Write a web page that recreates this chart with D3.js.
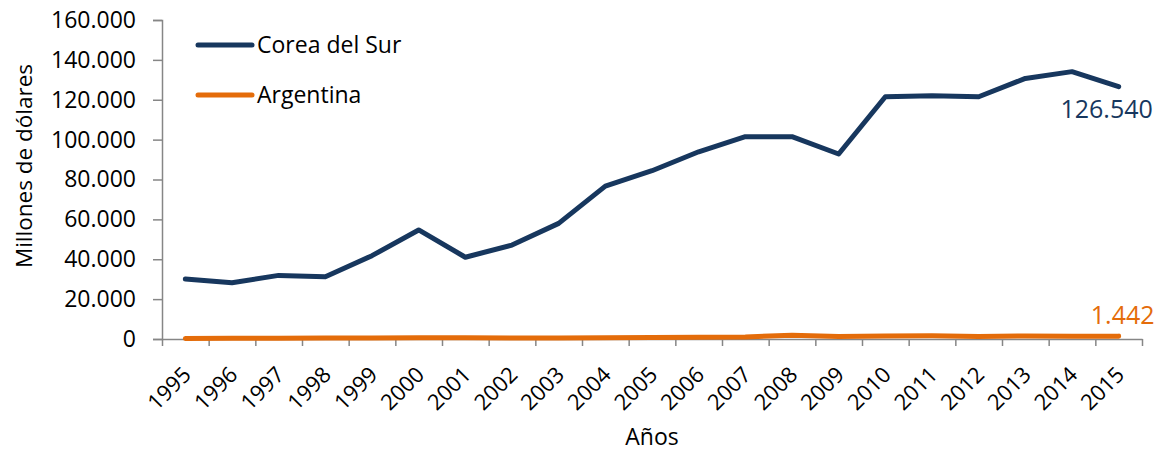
<!DOCTYPE html>
<html>
<head>
<meta charset="utf-8">
<script src="https://cdn.jsdelivr.net/npm/d3@7/dist/d3.min.js"></script>
<style>
  html, body { margin: 0; padding: 0; background: #fff; }
  svg { display: block; font-family: "Open Sans", sans-serif; }
</style>
</head>
<body>
<svg id="chart" width="1163" height="454"></svg>
<script>
const years = ["1995","1996","1997","1998","1999","2000","2001","2002","2003","2004","2005","2006","2007","2008","2009","2010","2011","2012","2013","2014","2015"];
const corea = [30100, 28200, 31900, 31200, 41800, 54700, 41000, 47100, 58000, 76700, 84400, 93900, 101500, 101500, 92800, 121500, 122000, 121500, 130700, 134100, 126540];
const argentina = [300, 350, 400, 450, 450, 600, 600, 500, 550, 650, 700, 900, 1000, 1900, 1300, 1500, 1650, 1300, 1500, 1400, 1442];
const yTicks = [0, 20000, 40000, 60000, 80000, 100000, 120000, 140000, 160000];
const seriesNames = ["Corea del Sur", "Argentina"];

const navy = "#17375E", orange = "#E46C0A", axisGray = "#868686";
const locale = d3.formatLocale({decimal: ",", thousands: ".", grouping: [3], currency: ["", ""]});
const fmt = locale.format(",");

const svg = d3.select("#chart");
const mLeft = 162, mRight = 1142, mTop = 20, mBottom = 339;

const x = d3.scaleBand().domain(years).range([mLeft, mRight]).paddingInner(0).paddingOuter(0);
const xb = d3.scaleLinear().domain([0, years.length]).range([mLeft, mRight]);
const y = d3.scaleLinear().domain([0, 160000]).range([mBottom, mTop]);
const cx = d => x(d) + x.bandwidth() / 2;

// Y axis
const yAxis = svg.append("g").attr("transform", `translate(${mLeft},0)`)
  .call(d3.axisLeft(y).tickValues(yTicks).tickSize(9).tickPadding(17).tickFormat(fmt));
yAxis.select(".domain").attr("stroke", axisGray).attr("stroke-width", 1.5);
yAxis.selectAll(".tick line").attr("stroke", axisGray).attr("stroke-width", 1.5);
yAxis.selectAll(".tick text").attr("font-size", 23).attr("fill", "#000")
  .attr("font-family", "Open Sans");

// X axis boundary ticks
const xAxisB = svg.append("g").attr("transform", `translate(0,${mBottom})`)
  .call(d3.axisBottom(xb).tickValues(d3.range(years.length + 1)).tickSize(7).tickSizeOuter(0).tickFormat(""));
xAxisB.select(".domain").attr("stroke", axisGray).attr("stroke-width", 1.5);
xAxisB.selectAll(".tick line").attr("stroke", axisGray).attr("stroke-width", 1.5);

// X labels
const xAxisL = svg.append("g").attr("transform", `translate(0,${mBottom})`)
  .call(d3.axisBottom(x).tickSize(0));
xAxisL.select(".domain").remove();
xAxisL.selectAll(".tick text")
  .attr("font-size", 22).attr("fill", "#000").attr("font-family", "Open Sans")
  .attr("x", 0).attr("y", 0).attr("dy", 0)
  .attr("text-anchor", "end")
  .attr("transform", "translate(7,37) rotate(-45)");

// Lines
const line = d3.line().x((d, i) => cx(years[i])).y(d => y(d));
svg.append("path").datum(argentina).attr("d", line)
  .attr("fill", "none").attr("stroke", orange).attr("stroke-width", 5)
  .attr("stroke-linejoin", "round").attr("stroke-linecap", "round");
svg.append("path").datum(corea).attr("d", line)
  .attr("fill", "none").attr("stroke", navy).attr("stroke-width", 5)
  .attr("stroke-linejoin", "round").attr("stroke-linecap", "round");

// Data labels
const last = years.length - 1;
svg.append("text").attr("x", cx(years[last]) - 12).attr("y", y(corea[last]) + 31)
  .attr("text-anchor", "middle").attr("font-size", 25).attr("fill", navy)
  .text(fmt(corea[last]));
svg.append("text").attr("x", cx(years[last]) + 4).attr("y", y(argentina[last]) - 12)
  .attr("text-anchor", "middle").attr("font-size", 25).attr("fill", orange)
  .text(fmt(argentina[last]));

// Legend
const legendColors = [navy, orange];
const lg = svg.append("g");
seriesNames.forEach((name, i) => {
  const ly = 45 + i * 50;
  lg.append("line").attr("x1", 198).attr("x2", 252).attr("y1", ly).attr("y2", ly)
    .attr("stroke", legendColors[i]).attr("stroke-width", 5).attr("stroke-linecap", "round");
  lg.append("text").attr("x", 257).attr("y", ly).attr("dy", "0.36em")
    .attr("font-size", 23).attr("fill", "#000").text(name);
});

// Axis titles
svg.append("text").attr("x", (mLeft + mRight) / 2).attr("y", 445)
  .attr("text-anchor", "middle").attr("font-size", 23).attr("fill", "#000").text("Años");
svg.append("text").attr("transform", "translate(32,166) rotate(-90)")
  .attr("text-anchor", "middle").attr("font-size", 22.5).attr("fill", "#000").text("Millones de dólares");
</script>
</body>
</html>
